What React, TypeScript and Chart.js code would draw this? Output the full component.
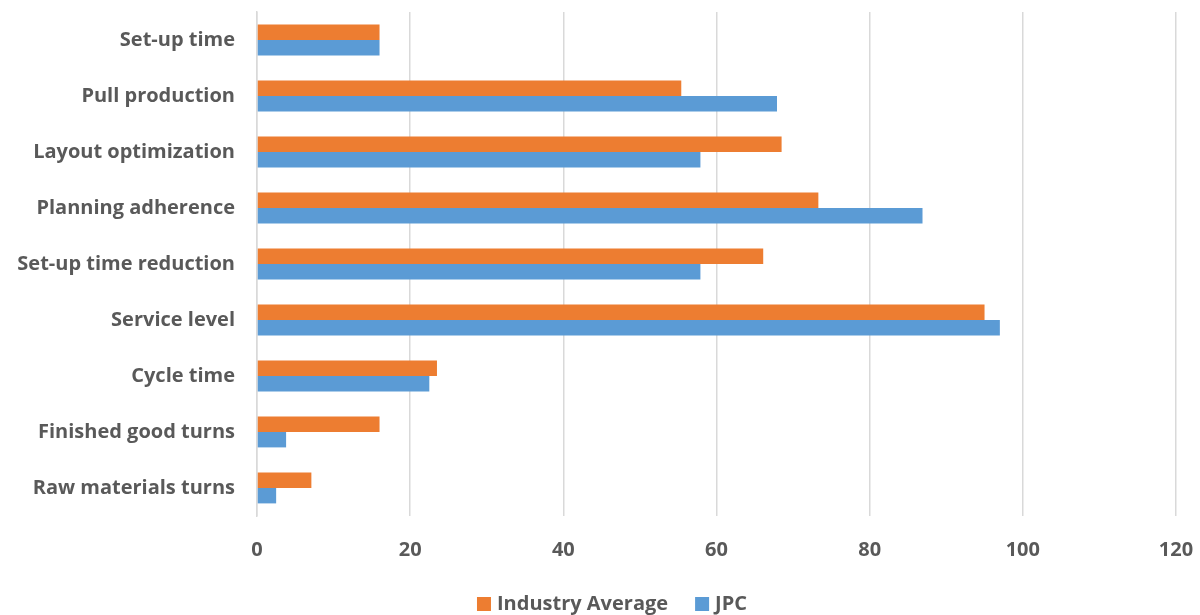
import React, { useEffect, useRef } from "react";
import { Chart, registerables } from "chart.js";

Chart.register(...registerables);

const categories = [
  "Set-up time",
  "Pull production",
  "Layout optimization",
  "Planning adherence",
  "Set-up time reduction",
  "Service level",
  "Cycle time",
  "Finished good turns",
  "Raw materials turns",
];
const industryAverage = [16, 55.4, 68.5, 73.3, 66.1, 95, 23.5, 16, 7.1];
const jpc = [16, 67.9, 57.9, 86.9, 57.9, 97, 22.5, 3.8, 2.5];
const seriesNames = ["Industry Average", "JPC"];
const seriesColors = ["#ED7D31", "#5B9BD5"];
const xTicks = [0, 20, 40, 60, 80, 100, 120];

const FONT = "'Open Sans', Lato, sans-serif";
const FONT_SIZE = 20;
const FONT_WEIGHT = "bold";
const TEXT_COLOR = "#595959";

const legendPlugin = {
  id: "customLegend",
  afterDraw(chart: any) {
    const ctx = chart.ctx as CanvasRenderingContext2D;
    ctx.save();
    ctx.font = `${FONT_WEIGHT} ${FONT_SIZE}px ${FONT}`;
    ctx.textBaseline = "middle";
    const box = 14;
    const gapBoxText = 6;
    const gapItems = 27;
    const items = chart.data.datasets.map((d: any) => ({
      label: d.label as string,
      color: d.backgroundColor as string,
      w: ctx.measureText(d.label).width,
    }));
    const total =
      items.reduce((s: number, it: any) => s + box + gapBoxText + it.w, 0) +
      gapItems * (items.length - 1);
    let x = 612 - total / 2;
    const cy = 604;
    items.forEach((it: any) => {
      ctx.fillStyle = it.color;
      ctx.fillRect(x, cy - box / 2, box, box);
      x += box + gapBoxText;
      ctx.fillStyle = TEXT_COLOR;
      ctx.textAlign = "left";
      ctx.fillText(it.label, x, cy);
      x += it.w + gapItems;
    });
    ctx.restore();
  },
};

export default function App() {
  const ref = useRef<HTMLCanvasElement | null>(null);
  useEffect(() => {
    if (!ref.current) return;
    const chart = new Chart(ref.current, {
      type: "bar",
      data: {
        labels: categories,
        datasets: [
          {
            label: seriesNames[0],
            data: industryAverage,
            backgroundColor: seriesColors[0],
            categoryPercentage: 0.55,
            barPercentage: 1,
          },
          {
            label: seriesNames[1],
            data: jpc,
            backgroundColor: seriesColors[1],
            categoryPercentage: 0.55,
            barPercentage: 1,
          },
        ],
      },
      options: {
        indexAxis: "y",
        animation: false,
        responsive: false,
        layout: { padding: { top: 12, right: 24, bottom: 0, left: 0 } },
        plugins: {
          legend: { display: false },
          tooltip: { enabled: false },
        },
        scales: {
          x: {
            min: 0,
            max: 120,
            afterBuildTicks: (scale: any) => {
              scale.ticks = xTicks.map((v) => ({ value: v }));
            },
            afterFit: (scale: any) => {
              scale.height = 99;
              scale.paddingLeft = 0;
              scale.paddingRight = 0;
            },
            grid: {
              color: "#d9d9d9",
              lineWidth: 1.5,
              drawTicks: false,
            },
            border: { display: false },
            ticks: {
              padding: 22,
              color: TEXT_COLOR,
              font: { family: FONT, size: FONT_SIZE, weight: FONT_WEIGHT },
              maxRotation: 0,
            },
          },
          y: {
            afterFit: (scale: any) => {
              scale.width = 257;
              scale.paddingTop = 0;
              scale.paddingBottom = 0;
            },
            grid: { display: false, drawTicks: false },
            border: { display: true, color: "#d9d9d9", width: 1.5 },
            ticks: {
              padding: 22,
              color: TEXT_COLOR,
              font: { family: FONT, size: FONT_SIZE, weight: FONT_WEIGHT },
            },
          },
        },
      },
      plugins: [legendPlugin],
    });
    return () => chart.destroy();
  }, []);
  return (
    <div style={{ position: "fixed", left: 0, top: 0, width: 1200, height: 615, background: "#fff" }}>
      <canvas ref={ref} width={1200} height={615} style={{ display: "block" }} />
    </div>
  );
}
